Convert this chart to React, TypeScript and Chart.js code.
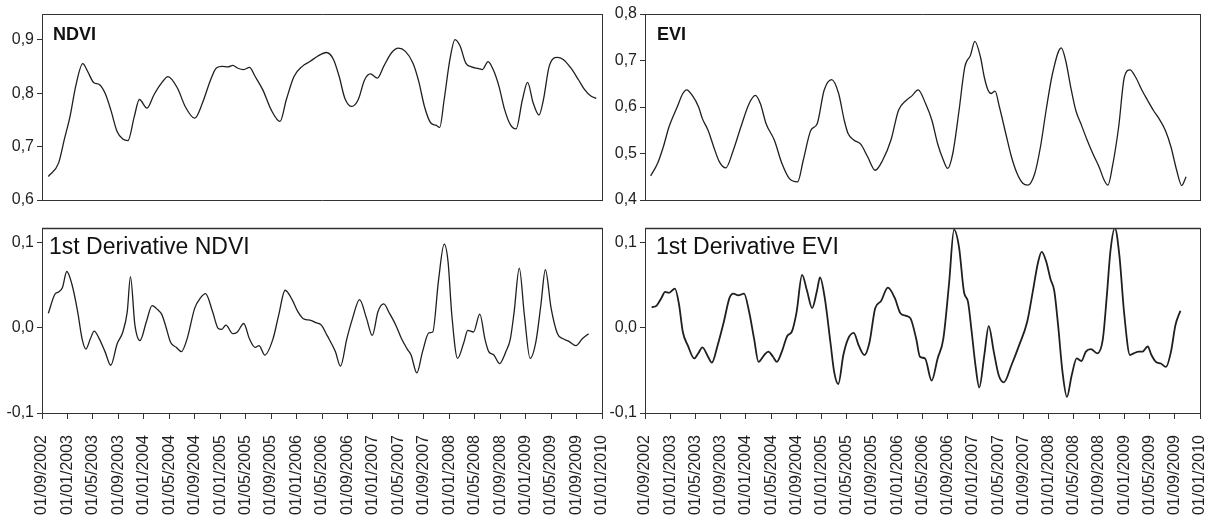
import React, { useEffect, useRef } from "react";
import { Chart, registerables } from "chart.js";

Chart.register(...registerables);

// x positions are months since 01/09/2002 (tick every 4 months)
const dateLabels = [
  "01/09/2002", "01/01/2003", "01/05/2003", "01/09/2003", "01/01/2004", "01/05/2004",
  "01/09/2004", "01/01/2005", "01/05/2005", "01/09/2005", "01/01/2006", "01/05/2006",
  "01/09/2006", "01/01/2007", "01/05/2007", "01/09/2007", "01/01/2008", "01/05/2008",
  "01/09/2008", "01/01/2009", "01/05/2009", "01/09/2009", "01/01/2010",
];

const ndviMonths = [
  1.0, 2.6, 3.5, 4.4, 5.3, 6.4, 7.2, 8.1, 9.0, 9.9, 10.8, 11.8, 12.7, 13.5, 14.5, 15.3, 16.5, 17.6,
  18.8, 19.8, 21.3, 22.5, 24.0, 25.2, 26.5, 27.4, 28.3, 29.2, 30.0, 30.7, 31.7, 32.6, 33.5, 34.7,
  36.0, 37.4, 38.4, 39.6, 40.9, 42.1, 43.3, 44.7, 45.8, 46.7, 47.6, 48.7, 49.7, 50.7, 51.6, 52.7,
  53.7, 54.9, 56.0, 57.1, 58.3, 59.2, 60.1, 61.1, 61.9, 62.5, 63.2, 64.1, 64.9, 65.7, 66.6, 67.5,
  68.6, 69.2, 70.1, 70.9, 71.8, 72.7, 73.6, 74.5, 75.5, 76.3, 77.2, 78.1, 78.8, 79.7, 81.0, 81.9,
  83.1, 84.3, 85.3, 86.2, 87.1,
];
const ndviValues = [
  0.644, 0.669, 0.713, 0.756, 0.813, 0.855, 0.84, 0.82, 0.816, 0.8, 0.769, 0.728, 0.714, 0.711, 0.756, 0.788, 0.772, 0.797,
  0.819, 0.831, 0.809, 0.775, 0.753, 0.781, 0.825, 0.847, 0.85, 0.849, 0.852, 0.847, 0.844, 0.848, 0.831, 0.806,
  0.769, 0.747, 0.788, 0.831, 0.85, 0.859, 0.869, 0.876, 0.863, 0.831, 0.79, 0.775, 0.788, 0.825, 0.836, 0.828,
  0.85, 0.875, 0.884, 0.878, 0.856, 0.822, 0.775, 0.744, 0.74, 0.736, 0.788, 0.863, 0.9, 0.888, 0.856, 0.849,
  0.846, 0.844, 0.859, 0.844, 0.813, 0.769, 0.741, 0.733, 0.788, 0.82, 0.781, 0.759, 0.788, 0.85, 0.867, 0.863,
  0.847, 0.825, 0.806, 0.795, 0.79,
];

const eviMonths = [
  0.9, 2.0, 2.9, 3.8, 5.1, 6.0, 6.6, 7.5, 8.5, 9.1, 10.0, 10.9, 11.8, 12.8, 14.0, 15.2, 16.5, 17.5,
  18.3, 19.2, 20.5, 21.7, 22.9, 24.2, 25.1, 26.3, 27.3, 28.4, 29.6, 30.7, 31.6, 32.2, 33.1, 34.2,
  35.3, 36.5, 37.7, 39.0, 40.2, 41.4, 42.4, 43.3, 44.5, 45.5, 46.4, 47.3, 48.0, 48.8, 49.8, 50.7,
  51.6, 52.3, 53.2, 53.8, 54.4, 54.9, 55.5, 56.2, 57.2, 58.1, 59.0, 59.9, 60.7, 61.8, 62.7, 63.6,
  64.6, 66.0, 66.7, 67.5, 68.3, 69.2, 70.1, 71.0, 72.0, 72.8, 73.4, 74.1, 75.1, 76.0, 76.9, 77.8,
  78.8, 79.7, 80.6, 81.5, 82.5, 83.4, 84.3, 85.1, 85.8,
];
const eviValues = [
  0.452, 0.479, 0.514, 0.557, 0.6, 0.629, 0.637, 0.625, 0.6, 0.575, 0.55, 0.514, 0.482, 0.469, 0.507, 0.557, 0.607, 0.625,
  0.607, 0.564, 0.529, 0.479, 0.446, 0.439, 0.486, 0.55, 0.564, 0.636, 0.659, 0.629, 0.571, 0.543, 0.529, 0.52,
  0.493, 0.464, 0.486, 0.529, 0.593, 0.614, 0.625, 0.637, 0.607, 0.571, 0.521, 0.486, 0.468, 0.5, 0.593, 0.686,
  0.711, 0.741, 0.707, 0.664, 0.636, 0.629, 0.634, 0.6, 0.543, 0.493, 0.457, 0.436, 0.432, 0.457, 0.514, 0.593,
  0.671, 0.727, 0.7, 0.643, 0.593, 0.561, 0.529, 0.5, 0.471, 0.443, 0.432, 0.471, 0.557, 0.664, 0.68, 0.664,
  0.636, 0.614, 0.593, 0.575, 0.55, 0.514, 0.464, 0.431, 0.45,
];

const dNdviMonths = [
  1.0, 2.0, 2.6, 3.2, 3.9, 4.7, 5.6, 6.3, 6.9, 7.6, 8.2, 9.0, 9.9, 10.8, 11.8, 12.7, 13.4, 13.9,
  14.6, 15.4, 16.4, 17.3, 18.2, 18.8, 19.4, 20.2, 21.1, 21.9, 22.8, 24.0, 24.9, 25.7, 26.8, 27.7,
  28.2, 28.9, 30.0, 30.7, 31.7, 32.6, 33.5, 34.1, 35.0, 36.3, 37.2, 38.2, 39.3, 40.2, 41.2, 42.1,
  43.0, 43.9, 44.8, 46.1, 46.9, 47.9, 48.8, 49.9, 51.0, 51.9, 52.8, 53.7, 54.6, 55.6, 56.5, 57.4,
  58.0, 58.9, 59.8, 60.8, 61.4, 62.3, 63.2, 63.8, 64.4, 65.3, 66.3, 66.9, 67.8, 68.8, 69.6, 70.2,
  71.0, 71.9, 72.9, 73.6, 74.2, 75.0, 75.8, 76.7, 77.6, 78.4, 79.1, 80.0, 81.0, 81.9, 82.8, 83.9,
  84.9, 85.9,
];
const dNdviValues = [
  0.017, 0.039, 0.042, 0.047, 0.066, 0.051, 0.019, -0.013, -0.025, -0.013, -0.004, -0.013, -0.028, -0.044, -0.019, -0.005, 0.019, 0.06,
  0.003, -0.015, 0.007, 0.026, 0.021, 0.016, 0.003, -0.017, -0.023, -0.028, -0.013, 0.023, 0.035, 0.04, 0.019, -0.001,
  -0.002, 0.003, -0.007, -0.005, 0.005, -0.013, -0.023, -0.021, -0.032, -0.013, 0.015, 0.044, 0.033, 0.019, 0.01, 0.009,
  0.006, 0.003, -0.009, -0.028, -0.045, -0.013, 0.011, 0.033, 0.011, -0.009, 0.019, 0.028, 0.017, 0.003, -0.013, -0.025,
  -0.032, -0.053, -0.028, -0.006, -0.005, 0.055, 0.098, 0.078, 0.015, -0.036, -0.017, -0.003, -0.005, 0.016, -0.013, -0.028,
  -0.032, -0.042, -0.028, -0.013, 0.019, 0.07, 0.015, -0.036, -0.017, 0.027, 0.068, 0.023, -0.007, -0.013, -0.016, -0.021,
  -0.013, -0.007,
];

const dEviMonths = [
  1.05, 1.85, 2.6, 3.2, 3.8, 4.75, 5.4, 6.0, 6.8, 7.8, 8.45, 9.1, 10.0, 10.6, 11.5, 12.5, 13.4, 14.0,
  14.8, 15.7, 16.5, 17.3, 18.0, 18.9, 19.55, 20.3, 20.9, 21.7, 22.6, 23.25, 24.05, 24.9, 25.7, 26.5,
  27.26, 27.75, 28.5, 29.4, 30.0, 30.65, 31.45, 32.2, 33.1, 33.9, 34.8, 35.6, 36.5, 37.4, 38.5, 39.6,
  40.5, 41.4, 42.1, 43.0, 43.6, 44.4, 45.45, 46.4, 47.3, 48.2, 49.0, 49.8, 50.6, 51.2, 51.8, 52.4,
  53.0, 53.8, 54.5, 55.3, 56.1, 56.9, 58.1, 59.3, 60.6, 61.5, 62.3, 62.9, 63.6, 64.3, 64.9, 65.5,
  66.2, 66.9, 67.65, 68.45, 69.2, 69.9, 70.7, 71.7, 72.6, 73.2, 73.8, 74.5, 75.2, 76.0, 76.9, 77.5,
  78.3, 78.9, 79.7, 80.3, 81.0, 81.8, 82.6, 83.4, 84.1, 84.9,
];
const dEviValues = [
  0.024, 0.026, 0.035, 0.042, 0.041, 0.046, 0.027, -0.005, -0.021, -0.036, -0.03, -0.023, -0.034, -0.041, -0.021, 0.007, 0.035, 0.04,
  0.038, 0.04, 0.019, -0.013, -0.04, -0.032, -0.028, -0.034, -0.04, -0.028, -0.009, -0.005, 0.019, 0.062, 0.043, 0.023,
  0.043, 0.059, 0.035, -0.017, -0.052, -0.066, -0.032, -0.013, -0.006, -0.021, -0.032, -0.017, 0.023, 0.031, 0.047, 0.035,
  0.017, 0.014, 0.011, -0.013, -0.034, -0.036, -0.062, -0.036, -0.013, 0.051, 0.115, 0.094, 0.041, 0.031, -0.005, -0.044,
  -0.07, -0.032, 0.002, -0.028, -0.056, -0.064, -0.044, -0.021, 0.007, 0.043, 0.076, 0.089, 0.078, 0.057, 0.043, 0.003,
  -0.052, -0.081, -0.056, -0.036, -0.039, -0.028, -0.025, -0.03, -0.013, 0.035, 0.09, 0.117, 0.086, 0.015, -0.032, -0.03,
  -0.028, -0.028, -0.022, -0.032, -0.04, -0.042, -0.046, -0.028, 0.003, 0.02,
];

const ndviTicks = [0.6, 0.7, 0.8, 0.9];
const eviTicks = [0.4, 0.5, 0.6, 0.7, 0.8];
const derivTicks = [-0.1, 0.0, 0.1];

const FONT = "'Liberation Sans', Arial, Helvetica, sans-serif";
const INK = "#1f1f1f";
const AXIS = "#333333";

type PanelProps = {
  left: number;
  top: number;
  width: number;
  height: number;
  months: number[];
  values: number[];
  yMin: number;
  yMax: number;
  yTicks: number[];
  title: string;
  titleFont: string;
  titleX: number;
  titleY: number;
  showX: boolean;
  lineWidth: number;
  yAxisWidth: number;
  padTop: number;
  padRight: number;
  xHeight: number;
  topBorderWidth: number;
};

function Panel(p: PanelProps) {
  const ref = useRef<HTMLCanvasElement | null>(null);

  useEffect(() => {
    if (!ref.current) return;
    const framePlugin = {
      id: "panelFrame",
      afterDraw(chart: any) {
        const { ctx, chartArea: a } = chart;
        ctx.save();
        ctx.strokeStyle = AXIS;
        ctx.lineWidth = p.topBorderWidth;
        ctx.beginPath();
        const ty = Math.round(a.top) + 0.5;
        ctx.moveTo(a.left, ty);
        ctx.lineTo(a.right + 0.5, ty);
        ctx.stroke();
        ctx.lineWidth = 1;
        ctx.beginPath();
        const rx = Math.round(a.right) + 0.5;
        ctx.moveTo(rx, a.top);
        ctx.lineTo(rx, a.bottom);
        ctx.stroke();
        ctx.fillStyle = "#111";
        ctx.font = p.titleFont;
        ctx.textBaseline = "alphabetic";
        ctx.textAlign = "left";
        ctx.fillText(p.title, p.titleX, p.titleY);
        ctx.restore();
      },
    };

    const chart = new Chart(ref.current, {
      type: "line",
      data: {
        datasets: [
          {
            data: p.months.map((m, i) => ({ x: m, y: p.values[i] })),
            borderColor: INK,
            borderWidth: p.lineWidth,
            pointRadius: 0,
            cubicInterpolationMode: "monotone",
            fill: false,
          },
        ],
      },
      options: {
        animation: false,
        responsive: false,
        events: [],
        layout: { padding: { left: 0, top: p.padTop, right: p.padRight, bottom: 0 } },
        plugins: {
          legend: { display: false },
          tooltip: { enabled: false },
          title: { display: false },
        },
        scales: {
          x: {
            type: "linear",
            min: 0,
            max: 88,
            afterBuildTicks: (s: any) => {
              s.ticks = dateLabels.map((_, i) => ({ value: i * 4 }));
            },
            afterFit: (s: any) => {
              s.height = p.xHeight;
              s.paddingLeft = 0;
              s.paddingRight = 0;
            },
            ticks: {
              display: p.showX,
              autoSkip: false,
              maxRotation: 90,
              minRotation: 90,
              padding: 16,
              color: INK,
              font: { family: FONT, size: 16 },
              callback: (v: any) => dateLabels[Math.round(Number(v) / 4)] ?? "",
            },
            grid: {
              display: true,
              drawOnChartArea: false,
              drawTicks: p.showX,
              tickLength: 6,
              color: AXIS,
            },
            border: { display: true, color: AXIS, width: 1 },
          },
          y: {
            type: "linear",
            min: p.yMin,
            max: p.yMax,
            afterBuildTicks: (s: any) => {
              s.ticks = p.yTicks.map((v) => ({ value: v }));
            },
            afterFit: (s: any) => {
              s.width = p.yAxisWidth;
              s.paddingTop = 0;
              s.paddingBottom = 0;
            },
            ticks: {
              padding: 3,
              color: INK,
              font: { family: FONT, size: 16 },
              callback: (v: any) => Number(v).toFixed(1).replace(".", ","),
            },
            grid: {
              display: true,
              drawOnChartArea: false,
              drawTicks: true,
              tickLength: 5,
              color: AXIS,
            },
            border: { display: true, color: AXIS, width: 1 },
          },
        },
      },
      plugins: [framePlugin],
    } as any);

    return () => chart.destroy();
  }, []);

  return (
    <canvas
      ref={ref}
      width={p.width}
      height={p.height}
      style={{
        position: "absolute",
        left: p.left,
        top: p.top,
        width: p.width,
        height: p.height,
      }}
    />
  );
}

export default function App() {
  return (
    <div
      style={{
        position: "absolute",
        left: 0,
        top: 0,
        width: 1216,
        height: 520,
        background: "#ffffff",
        overflow: "hidden",
      }}
    >
      <Panel
        left={0}
        top={0}
        width={612}
        height={210}
        months={ndviMonths}
        values={ndviValues}
        yMin={0.6}
        yMax={0.948}
        yTicks={ndviTicks}
        title="NDVI"
        titleFont={`bold 18px ${FONT}`}
        titleX={53}
        titleY={40}
        showX={false}
        lineWidth={1.3}
        yAxisWidth={42}
        padTop={14}
        padRight={10}
        xHeight={10}
        topBorderWidth={1}
      />
      <Panel
        left={600}
        top={0}
        width={612}
        height={210}
        months={eviMonths}
        values={eviValues}
        yMin={0.4}
        yMax={0.8}
        yTicks={eviTicks}
        title="EVI"
        titleFont={`bold 18px ${FONT}`}
        titleX={57}
        titleY={40}
        showX={false}
        lineWidth={1.3}
        yAxisWidth={45}
        padTop={14}
        padRight={12}
        xHeight={10}
        topBorderWidth={1}
      />
      <Panel
        left={0}
        top={215}
        width={612}
        height={305}
        months={dNdviMonths}
        values={dNdviValues}
        yMin={-0.1}
        yMax={0.117}
        yTicks={derivTicks}
        title="1st Derivative NDVI"
        titleFont={`23px ${FONT}`}
        titleX={49}
        titleY={39}
        showX={true}
        lineWidth={1.3}
        yAxisWidth={42}
        padTop={13}
        padRight={10}
        xHeight={107}
        topBorderWidth={1.5}
      />
      <Panel
        left={600}
        top={215}
        width={612}
        height={305}
        months={dEviMonths}
        values={dEviValues}
        yMin={-0.1}
        yMax={0.117}
        yTicks={derivTicks}
        title="1st Derivative EVI"
        titleFont={`23px ${FONT}`}
        titleX={56}
        titleY={39}
        showX={true}
        lineWidth={1.8}
        yAxisWidth={45}
        padTop={13}
        padRight={12}
        xHeight={107}
        topBorderWidth={1.5}
      />
    </div>
  );
}
